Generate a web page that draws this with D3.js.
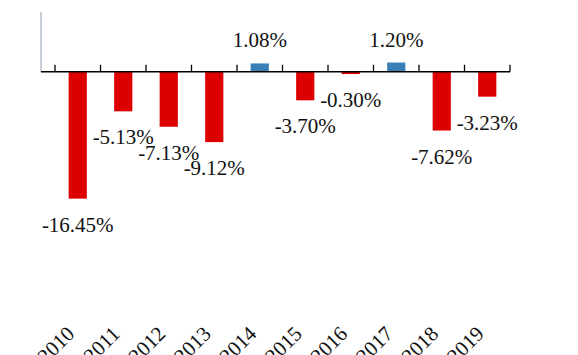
<!DOCTYPE html>
<html>
<head>
<meta charset="utf-8">
<script src="https://cdn.jsdelivr.net/npm/d3@7"></script>
<style>
  html, body { margin: 0; padding: 0; background: #fff; }
  svg { display: block; }
  text { font-family: "Liberation Serif", "Times New Roman", serif; }
</style>
</head>
<body>
<svg id="chart" width="578" height="355"></svg>
<script>
const years = ["2010","2011","2012","2013","2014","2015","2016","2017","2018","2019"];
const values = [-16.45, -5.13, -7.13, -9.12, 1.08, -3.70, -0.30, 1.20, -7.62, -3.23];
const valueLabels = ["-16.45%","-5.13%","-7.13%","-9.12%","1.08%","-3.70%","-0.30%","1.20%","-7.62%","-3.23%"];

const svg = d3.select("#chart");

const x = d3.scaleBand().domain(years).range([55, 510]).paddingInner(0.6).paddingOuter(0.3);
const y = d3.scaleLinear().domain([-20, 7.75]).range([226, 12]);

const y0 = y(0);

// y axis line (gray)
svg.append("line")
  .attr("x1", 41).attr("x2", 41)
  .attr("y1", y(7.75)).attr("y2", y0)
  .attr("stroke", "#8e9cab").attr("stroke-width", 1);

// bars
svg.selectAll("rect.bar").data(values).enter().append("rect")
  .attr("class", "bar")
  .attr("x", (d, i) => x(years[i]))
  .attr("width", x.bandwidth())
  .attr("y", d => Math.min(y(d), y0))
  .attr("height", d => Math.abs(y(d) - y0))
  .attr("fill", d => d >= 0 ? "#3a7fb6" : "#dd0000");

// x axis line + upward ticks at band boundaries
svg.append("line")
  .attr("x1", 41).attr("x2", 510)
  .attr("y1", y0).attr("y2", y0)
  .attr("stroke", "#000").attr("stroke-width", 1.5);

const step = x.step();
const bounds = years.map(yr => x(yr) + x.bandwidth() / 2 - step / 2).concat([x(years[years.length - 1]) + x.bandwidth() / 2 + step / 2]);
svg.selectAll("line.tick").data(bounds).enter().append("line")
  .attr("class", "tick")
  .attr("x1", d => d).attr("x2", d => d)
  .attr("y1", y0).attr("y2", y0 - 7)
  .attr("stroke", "#000").attr("stroke-width", 1.3);

// value labels
svg.selectAll("text.val").data(values).enter().append("text")
  .attr("class", "val")
  .attr("x", (d, i) => x(years[i]) + x.bandwidth() / 2)
  .attr("y", d => d >= 0 ? y(d) - 16 : y(d) + 33)
  .attr("text-anchor", "middle")
  .attr("font-size", 21)
  .attr("fill", "#111")
  .text((d, i) => valueLabels[i]);

// year labels, rotated
svg.selectAll("text.year").data(years).enter().append("text")
  .attr("class", "year")
  .attr("transform", d => `translate(${x(d) + x.bandwidth() / 2 - 2},335) rotate(-45)`)
  .attr("text-anchor", "end")
  .attr("font-size", 21)
  .attr("fill", "#111")
  .text(d => d);
</script>
</body>
</html>
